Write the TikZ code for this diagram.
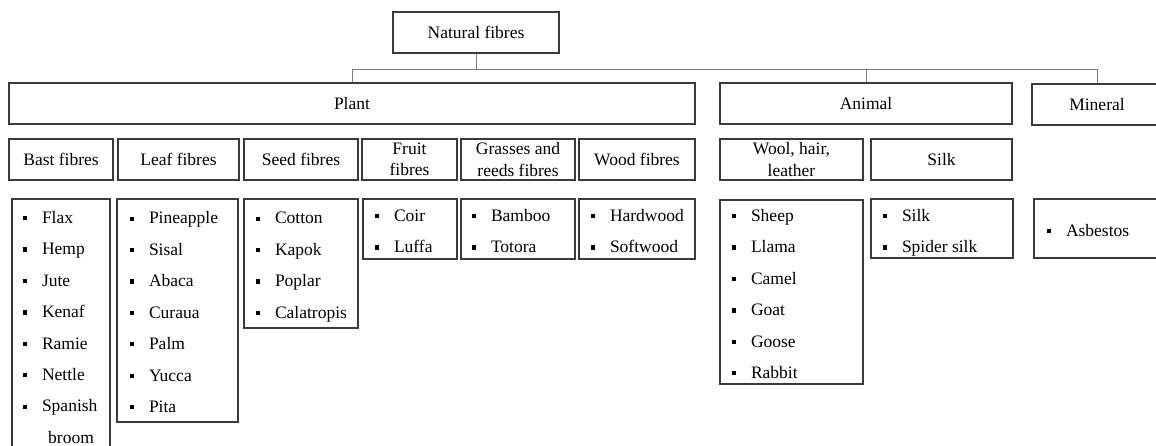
\documentclass[tikz,border=0pt]{standalone}
\usepackage{fontspec}
\setmainfont{Liberation Serif}
\definecolor{boxc}{HTML}{3A3A3A}
\definecolor{linkc}{HTML}{7A7A7A}
\newcommand\bul{\rule[3.2pt]{4.2pt}{4.2pt}\hspace{14.6pt}}
\newcommand\bx[6]{\node[box, minimum width={(#3-#2)*1pt}, minimum height={(#5-#4)*1pt}] (#1) at ({(#2+#3)/2},{(#4+#5)/2}) {#6};}
\newcommand\its[4]{\foreach \t [count=\i from 0] in {#4} {\node[itm] (#1\i) at (#2,{#3+31.4*\i}) {\bul\t};}}
\begin{document}
\begin{tikzpicture}[x=1pt,y=-1pt,
  box/.style={draw=boxc, line width=1.4pt, inner sep=0pt, align=center, font=\fontsize{17.5}{21.5}\selectfont},
  link/.style={draw=linkc, line width=1pt},
  itm/.style={anchor=base west, inner sep=0pt, font=\fontsize{17.5}{21.5}\selectfont}]
\useasboundingbox (0,0) rectangle (1156,446);
% level 0 and 1
\bx{nat}{393}{559}{12}{53}{Natural fibres}
\bx{plant}{9}{695}{83}{124}{Plant}
\bx{animal}{720}{1012}{83}{124}{Animal}
\bx{mineral}{1032}{1162}{84}{125}{Mineral}
% level 2
\bx{bast}{9}{113}{139}{180}{Bast fibres}
\bx{leaf}{118}{239}{139}{180}{Leaf fibres}
\bx{seed}{244}{358}{139}{180}{Seed fibres}
\bx{fruit}{362}{457}{139}{180}{Fruit\\fibres}
\bx{grass}{461}{575}{139}{180}{Grasses and\\reeds fibres}
\bx{wood}{579}{695}{139}{180}{Wood fibres}
\bx{wool}{720}{863}{139}{180}{Wool, hair,\\leather}
\bx{silk}{871}{1012}{139}{180}{Silk}
% lists
\bx{bastL}{12}{110}{199}{462}{}
\bx{leafL}{117}{238}{199}{422}{}
\bx{seedL}{244}{358}{199}{328}{}
\bx{fruitL}{363}{457}{199}{259}{}
\bx{grassL}{461}{575}{199}{259}{}
\bx{woodL}{579}{695}{199}{259}{}
\bx{woolL}{720}{863}{200}{384}{}
\bx{silkL}{871}{1013}{199}{258}{}
\bx{minL}{1034}{1170}{199}{258}{}
% connectors
\coordinate (bus) at (0,70);
\draw[link] (nat.south) -- (nat.south |- bus);
\draw[link] (plant.north) -- (plant.north |- bus) -- (mineral.north |- bus) -- (mineral.north);
\draw[link] (animal.north) -- (animal.north |- bus);
% items
\its{ba}{23}{223.5}{Flax,Hemp,Jute,Kenaf,Ramie,Nettle,Spanish}
\node[itm] (babroom) at (48,443.5) {broom};
\its{le}{130}{224}{Pineapple,Sisal,Abaca,Curaua,Palm,Yucca,Pita}
\its{se}{256}{224}{Cotton,Kapok,Poplar,Calatropis}
\its{fr}{375}{221.5}{Coir,Luffa}
\its{gr}{472}{221.5}{Bamboo,Totora}
\its{wo}{591}{221.5}{Hardwood,Softwood}
\its{an}{732}{221.5}{Sheep,Llama,Camel,Goat,Goose,Rabbit}
\its{si}{883}{221.5}{Silk,Spider silk}
\its{mi}{1047}{236.5}{Asbestos}
\end{tikzpicture}
\end{document}
